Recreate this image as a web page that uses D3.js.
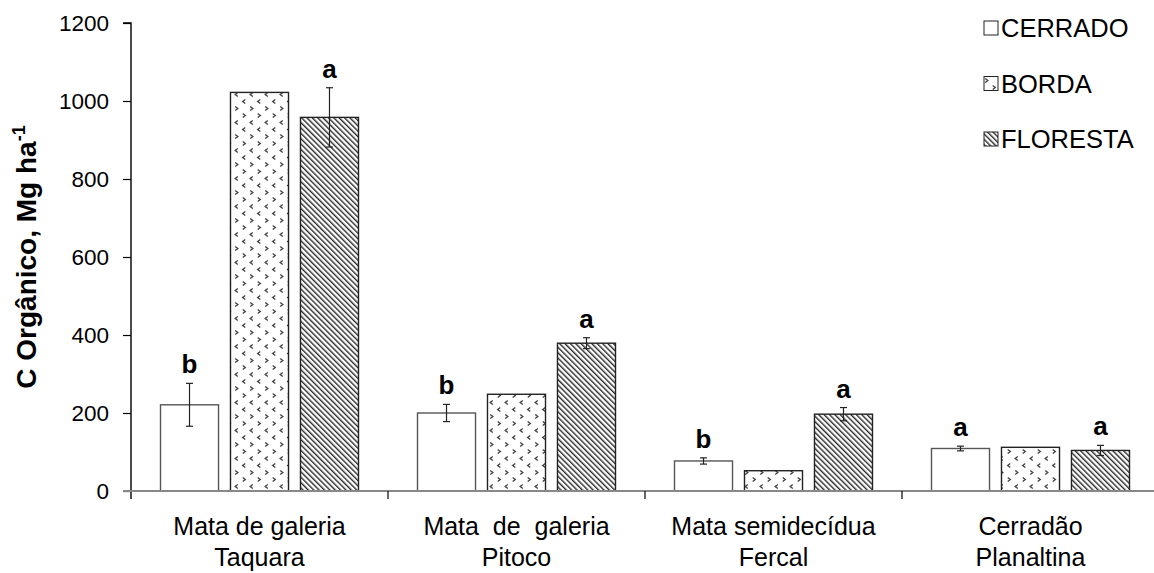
<!DOCTYPE html>
<html>
<head>
<meta charset="utf-8">
<script src="https://cdn.jsdelivr.net/npm/d3@7"></script>
<style>
  html, body { margin: 0; padding: 0; background: #fff; }
  svg { display: block; font-family: Arial, "Liberation Sans", sans-serif; }
</style>
</head>
<body>
<svg id="chart" width="1154" height="573"></svg>
<script>
// ---- data ----
const categories = [
  ["Mata de galeria", "Taquara"],
  ["Mata  de  galeria", "Pitoco"],
  ["Mata semidecídua", "Fercal"],
  ["Cerradão", "Planaltina"]
];
const seriesNames = ["CERRADO", "BORDA", "FLORESTA"];
const cerradoValues  = [221, 200, 77, 109];
const bordaValues    = [1022, 248, 52, 112];
const florestaValues = [958, 379, 197, 104];
const cerradoErrors  = [55, 22, 8, 6];
const bordaErrors    = [null, null, null, null];
const florestaErrors = [76, 14, 17, 13];
const cerradoLetters  = ["b", "b", "b", "a"];
const bordaLetters    = [null, null, null, null];
const florestaLetters = ["a", "a", "a", "a"];
const yTicks = [0, 200, 400, 600, 800, 1000, 1200];
const yTitle = "C Orgânico, Mg ha";
const yTitleSup = "-1";

// ---- build ----
const series = [
  {name: seriesNames[0], values: cerradoValues, errors: cerradoErrors, letters: cerradoLetters, fill: "#fff", stroke: "#555"},
  {name: seriesNames[1], values: bordaValues, errors: bordaErrors, letters: bordaLetters, fill: "url(#dots)", stroke: "#222"},
  {name: seriesNames[2], values: florestaValues, errors: florestaErrors, letters: florestaLetters, fill: "url(#hatch)", stroke: "#222"}
];

const svg = d3.select("#chart");
const defs = svg.append("defs");

// BORDA pattern: small staggered chevrons
const dots = defs.append("pattern").attr("id", "dots")
  .attr("patternUnits", "userSpaceOnUse").attr("width", 15).attr("height", 28);
dots.append("rect").attr("width", 15).attr("height", 28).attr("fill", "#fff");
const chev = [
  {x: 4, y: 3.5, dir: 1}, {x: 11.5, y: 10.5, dir: -1},
  {x: 4, y: 17.5, dir: -1}, {x: 11.5, y: 24.5, dir: 1}
];
chev.forEach(c => {
  const d = c.dir > 0
    ? `M${c.x - 1.3},${c.y - 2} L${c.x + 1.3},${c.y} L${c.x - 1.3},${c.y + 2}`
    : `M${c.x + 1.3},${c.y - 2} L${c.x - 1.3},${c.y} L${c.x + 1.3},${c.y + 2}`;
  dots.append("path").attr("d", d).attr("fill", "none")
    .attr("stroke", "#444").attr("stroke-width", 1.4);
});

// FLORESTA pattern: diagonal hatch
const hatch = defs.append("pattern").attr("id", "hatch")
  .attr("patternUnits", "userSpaceOnUse").attr("width", 3.8).attr("height", 10)
  .attr("patternTransform", "rotate(-45)");
hatch.append("rect").attr("width", 3.8).attr("height", 10).attr("fill", "#fff");
hatch.append("rect").attr("x", 0).attr("width", 1.4).attr("height", 10).attr("fill", "#2a2a2a");

// scales
const plotLeft = 131, plotTop = 23, plotBottom = 491;
const x0 = d3.scaleBand().domain(d3.range(categories.length)).range([plotLeft, plotLeft + 257 * 4]).padding(0);
const x1 = d3.scaleBand().domain(seriesNames).range([29.5, 227.5]).paddingInner(0.171).paddingOuter(0);
const y = d3.scaleLinear().domain([0, 1200]).range([plotBottom, plotTop]);

// bars
series.forEach(s => {
  const g = svg.append("g");
  s.values.forEach((v, i) => {
    const bx = x0(i) + x1(s.name);
    g.append("rect")
      .attr("x", bx).attr("y", y(v))
      .attr("width", x1.bandwidth()).attr("height", y(0) - y(v))
      .attr("fill", s.fill).attr("stroke", s.stroke).attr("stroke-width", 1.4);
  });
});

// error bars and letters
series.forEach(s => {
  s.values.forEach((v, i) => {
    const cx = x0(i) + x1(s.name) + x1.bandwidth() / 2;
    const e = s.errors[i];
    let top = y(v);
    if (e != null) {
      const yHi = y(v + e), yLo = y(v - e);
      top = yHi;
      svg.append("line").attr("x1", cx).attr("x2", cx).attr("y1", yHi).attr("y2", yLo)
        .attr("stroke", "#222").attr("stroke-width", 1.2);
      [yHi, yLo].forEach(yy => svg.append("line")
        .attr("x1", cx - 3.5).attr("x2", cx + 3.5).attr("y1", yy).attr("y2", yy)
        .attr("stroke", "#222").attr("stroke-width", 1.2));
    }
    if (s.letters[i]) {
      svg.append("text").attr("x", cx).attr("y", top - 10)
        .attr("text-anchor", "middle").attr("font-weight", "bold").attr("font-size", 26)
        .attr("fill", "#000").text(s.letters[i]);
    }
  });
});

// y axis
const yAxis = d3.axisLeft(y).tickValues(yTicks).tickSize(8).tickPadding(14).tickFormat(d3.format("d"));
const gy = svg.append("g").attr("transform", `translate(${plotLeft},0)`).call(yAxis);
gy.select(".domain").attr("stroke", "#000").attr("stroke-width", 1.4)
  .attr("d", `M-8,${plotTop}H0V${plotBottom + 8}`);
gy.selectAll(".tick line").attr("stroke", "#000").attr("stroke-width", 1.2);
gy.selectAll(".tick text").attr("font-size", 22.5).attr("fill", "#000").attr("font-family", "Arial, 'Liberation Sans', sans-serif");

// x axis
const boundaries = d3.range(categories.length + 1).map(i => plotLeft + x0.step() * i);
svg.append("line").attr("x1", plotLeft - 8).attr("x2", 1154).attr("y1", plotBottom).attr("y2", plotBottom)
  .attr("stroke", "#888").attr("stroke-width", 2);
boundaries.slice(1).forEach(bx => svg.append("line")
  .attr("x1", bx).attr("x2", bx).attr("y1", plotBottom).attr("y2", plotBottom + 8)
  .attr("stroke", "#000").attr("stroke-width", 1.2));

// category labels
categories.forEach((lines, i) => {
  const cx = x0(i) + x0.bandwidth() / 2;
  lines.forEach((t, j) => {
    svg.append("text").attr("x", cx).attr("y", 535 + j * 31)
      .attr("text-anchor", "middle").attr("font-size", 25).attr("fill", "#000")
      .style("white-space", "pre").text(t);
  });
});

// y title
const yt = svg.append("text").attr("transform", `translate(36,${(plotTop + plotBottom) / 2}) rotate(-90)`)
  .attr("text-anchor", "middle").attr("font-weight", "bold").attr("font-size", 28).attr("fill", "#000");
yt.append("tspan").text(yTitle);
yt.append("tspan").attr("dy", -11).attr("font-size", 18).text(yTitleSup);

// legend
series.forEach((s, i) => {
  const ly = 28 + i * 55.5;
  svg.append("rect").attr("x", 984).attr("y", ly - 7).attr("width", 14).attr("height", 14)
    .attr("fill", s.fill).attr("stroke", "#222").attr("stroke-width", 1);
  svg.append("text").attr("x", 1001).attr("y", ly + 9).attr("font-size", 25.5).attr("fill", "#000").text(s.name);
});
</script>
</body>
</html>
